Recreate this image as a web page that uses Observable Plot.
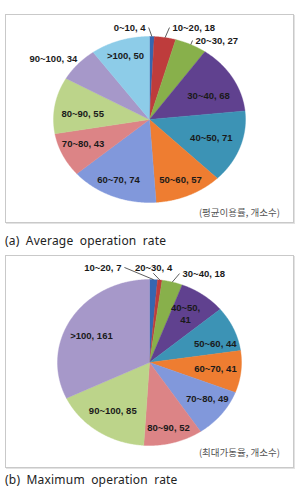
<!DOCTYPE html>
<html>
<head>
<meta charset="utf-8">
<script src="https://cdn.jsdelivr.net/npm/d3@7"></script>
<script src="https://cdn.jsdelivr.net/npm/@observablehq/plot@0.6"></script>
<style>
  html, body { margin: 0; padding: 0; background: #fff; }
  body { position: relative; width: 298px; height: 489px; overflow: hidden; font-family: "Noto Sans", sans-serif; }
  .box { position: absolute; left: 5px; width: 287px; border: 1px solid #c9c9c9; box-shadow: 1px 1px 0 #e2e2e2; background: #fff; }
  .box svg { position: absolute; left: 0; top: 0; overflow: visible; }
  .note { position: absolute; right: 13px; font-family: "Noto Sans CJK KR", sans-serif; font-size: 9.5px; line-height: 12px; color: #555; white-space: nowrap; }
  .cap { position: absolute; left: 5px; font-family: "Noto Sans", sans-serif; font-size: 12px; line-height: 14px; color: #222; word-spacing: 3px; letter-spacing: 0.2px; white-space: nowrap; }
</style>
</head>
<body>
<div id="boxA" class="box" style="top:14px;height:207px"><div class="note" style="top:191px">(평균이용률, 개소수)</div></div>
<div class="cap" style="top:234px">(a) Average operation rate</div>
<div id="boxB" class="box" style="top:255px;height:211px"><div class="note" style="top:190px">(최대가동율, 개소수)</div></div>
<div class="cap" style="top:473px">(b) Maximum operation rate</div>
<script>
// Number of facilities by average operation rate (%)
const avgCategories = ["0~10", "10~20", "20~30", "30~40", "40~50", "50~60", "60~70", "70~80", "80~90", "90~100", ">100"];
const avgCounts = [4, 18, 27, 68, 71, 57, 74, 43, 55, 34, 50];

// Number of facilities by maximum operation rate (%)
const maxCategories = ["10~20", "20~30", "30~40", "40~50", "50~60", "60~70", "70~80", "80~90", "90~100", ">100"];
const maxCounts = [7, 4, 18, 41, 44, 41, 49, 52, 85, 161];

// Slice fills, in slice order
const sliceColors = ["#3566B0", "#BE3C3C", "#88B04B", "#60418F", "#3C93B5", "#EE7D31", "#8198DB", "#DC8486", "#BCD48A", "#A698C9", "#8DCCE8"];

// Label placement: radius (1 = pie edge), angular nudge in degrees, anchor, leader line
const avgLabelPlacement = [
  { r: 1.108, shift: -1.9, anchor: "end", leader: true },
  { r: 1.127, shift: 1.3, anchor: "start", leader: true },
  { r: 1.052, shift: -0.3, anchor: "start", leader: true },
  { r: 0.68, shift: 5.2 },
  { r: 0.68, shift: -1 },
  { r: 0.79, shift: 0.3 },
  { r: 0.79, shift: 1.5 },
  { r: 0.75, shift: 2.5 },
  { r: 0.70, shift: -4 },
  { r: 1.03, shift: 3.7, anchor: "end" },
  { r: 0.81, shift: 0 }
];
const maxLabelPlacement = [
  { r: 1.177, shift: -15.9, anchor: "end", leader: true },
  { r: 1.146, shift: -4.25, anchor: "middle", leader: true },
  { r: 1.12, shift: 2.6, anchor: "start", leader: true },
  { r: 0.71, shift: -2, wrap: true },
  { r: 0.75, shift: 6.3 },
  { r: 0.72, shift: -0.7 },
  { r: 0.76, shift: -4.5 },
  { r: 0.81, shift: 0.3 },
  { r: 0.70, shift: 0.7 },
  { r: 0.71, shift: -5 }
];

// angle measured clockwise from 12 o'clock; unit radius in scale space
const polar = (deg, r) => {
  const t = deg * Math.PI / 180;
  return { x: r * Math.sin(t), y: r * Math.cos(t) };
};

function buildSlices(categories, counts) {
  const total = d3.sum(counts);
  let acc = 0;
  return categories.map((key, i) => {
    const a0 = acc / total * 360;
    acc += counts[i];
    const a1 = acc / total * 360;
    return { key, value: counts[i], a0, a1, mid: (a0 + a1) / 2 };
  });
}

function outlinePoints(slices) {
  const pts = [];
  for (const s of slices) {
    pts.push({ key: s.key, x: 0, y: 0 });
    const n = Math.max(2, Math.ceil((s.a1 - s.a0) / 0.5));
    for (let k = 0; k <= n; k++) {
      const p = polar(s.a0 + (s.a1 - s.a0) * k / n, 1);
      pts.push({ key: s.key, ...p });
    }
    pts.push({ key: s.key, x: 0, y: 0 });
  }
  return pts;
}

function buildLabels(slices, placement) {
  return slices.map((s, i) => {
    const pl = placement[i];
    const anchor = pl.anchor || "middle";
    const ang = s.mid + pl.shift;
    const p = polar(ang, pl.r);
    const edge = polar(s.mid, 1);
    const tip = polar(ang, anchor === "middle" && pl.leader ? pl.r - 0.07 : pl.r);
    return {
      text: pl.wrap ? `${s.key},\n${s.value}` : `${s.key}, ${s.value}`,
      anchor, leader: !!pl.leader,
      x: p.x, y: p.y, ex: edge.x, ey: edge.y, tx: tip.x, ty: tip.y
    };
  });
}

function pieChart({ categories, counts, placement, width, height, cx, cy, rx, ry }) {
  const slices = buildSlices(categories, counts);
  const labels = buildLabels(slices, placement);
  const textStyle = { fontSize: 9.5, fontWeight: "bold", fontFamily: "Liberation Sans, Arial, sans-serif", fill: "#1a1a1a", lineHeight: 1.25 };
  return Plot.plot({
    width, height,
    marginLeft: cx - rx, marginRight: width - cx - rx,
    marginTop: cy - ry, marginBottom: height - cy - ry,
    x: { domain: [-1, 1], axis: null },
    y: { domain: [-1, 1], axis: null },
    color: { domain: categories, range: sliceColors.slice(0, categories.length) },
    style: { background: "transparent", overflow: "visible" },
    marks: [
      Plot.line(outlinePoints(slices), { x: "x", y: "y", z: "key", fill: "key", stroke: "key", strokeWidth: 0.4, curve: "linear" }),
      Plot.link(labels.filter(d => d.leader), { x1: "ex", y1: "ey", x2: "tx", y2: "ty", stroke: "#333", strokeWidth: 0.8 }),
      Plot.text(labels.filter(d => d.anchor === "middle"), { x: "x", y: "y", text: "text", textAnchor: "middle", ...textStyle }),
      Plot.text(labels.filter(d => d.anchor === "start"), { x: "x", y: "y", text: "text", textAnchor: "start", dx: 3, ...textStyle }),
      Plot.text(labels.filter(d => d.anchor === "end"), { x: "x", y: "y", text: "text", textAnchor: "end", dx: -3, ...textStyle })
    ]
  });
}

document.getElementById("boxA").prepend(pieChart({
  categories: avgCategories, counts: avgCounts, placement: avgLabelPlacement,
  width: 287, height: 207, cx: 143, cy: 104, rx: 96, ry: 83
}));
document.getElementById("boxB").prepend(pieChart({
  categories: maxCategories, counts: maxCounts, placement: maxLabelPlacement,
  width: 287, height: 211, cx: 143, cy: 106, rx: 92, ry: 83
}));
</script>
</body>
</html>
